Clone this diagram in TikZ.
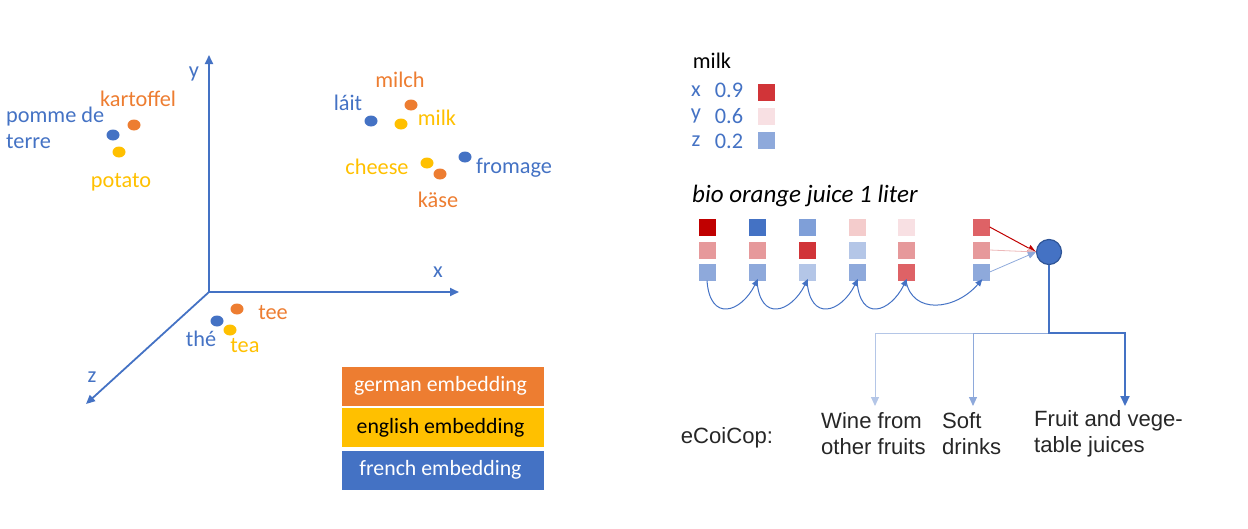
\documentclass[tikz,border=0pt]{standalone}
\usepackage{fontspec}
\setmainfont{Carlito}
\newfontfamily\arialf{Liberation Sans}
\usetikzlibrary{shapes.geometric,arrows.meta}
\definecolor{orng}{HTML}{ED7D31}
\definecolor{yel}{HTML}{FFC000}
\definecolor{blu}{HTML}{4472C4}
\definecolor{bluedark}{HTML}{2F5597}
\definecolor{darkred}{HTML}{C00000}
\definecolor{redA}{HTML}{D13438}
\definecolor{redB}{HTML}{DE6266}
\definecolor{redC}{HTML}{E6999B}
\definecolor{pinkA}{HTML}{F4CCCC}
\definecolor{pinkB}{HTML}{F8E0E3}
\definecolor{bluA}{HTML}{8EA9DB}
\definecolor{bluB}{HTML}{7F9FD8}
\definecolor{bluC}{HTML}{B4C6E7}
\definecolor{txtdark}{HTML}{262626}
\begin{document}
\begin{tikzpicture}[x=1pt,y=-1pt,
  dot/.style={ellipse,minimum width=13pt,minimum height=11pt,inner sep=0pt},
  lbl/.style={font=\fontsize{22.3}{26}\selectfont,inner sep=0pt},
  axisline/.style={draw=blu,line width=1.8pt,-{Triangle[length=9pt,width=8pt]}},
  legbox/.style={minimum width=202pt,minimum height=39pt,inner sep=0pt,font=\fontsize{21.8}{26}\selectfont},
  sq/.style={minimum size=17pt,inner sep=0pt},
  cat/.style={font=\arialf\fontsize{22.1}{26}\selectfont,text=txtdark,inner sep=0pt,align=left},
  hop/.style={draw=blu,line width=1pt,-{Triangle[length=7pt,width=6pt]},shorten >=-2pt}
]
\useasboundingbox (0,0) rectangle (1248,528);
% axes
\coordinate (O) at (209,292);
\coordinate (Y) at (209,55);
\coordinate (X) at (459,292);
\coordinate (Z) at (86,404);
\draw[axisline] (O) -- (Y);
\draw[axisline] (O) -- (X);
\draw[axisline] (O) -- (Z);
\node[lbl,text=blu] (ylbl) at (194,74) {y};
\node[lbl,text=blu] (xlbl) at (438,272) {x};
\node[lbl,text=blu] (zlbl) at (92,377) {z};
% potato cluster
\node[dot,fill=blu] (d1) at (113,135) {};
\node[dot,fill=orng] (d2) at (134,125) {};
\node[dot,fill=yel] (d3) at (119,152) {};
\node[lbl,text=blu,align=left,anchor=west] (l1) at (6,128) {pomme de\\terre};
\node[lbl,text=orng] (l2) at (138,99) {kartoffel};
\node[lbl,text=yel] (l3) at (121,182) {potato};
% milk cluster
\node[dot,fill=blu] (d4) at (371,121) {};
\node[dot,fill=orng] (d5) at (411,105) {};
\node[dot,fill=yel] (d6) at (401,124) {};
\node[lbl,text=blu] (l4) at (348,103) {láit};
\node[lbl,text=orng] (l5) at (400,80) {milch};
\node[lbl,text=yel] (l6) at (437,118) {milk};
% cheese cluster
\node[dot,fill=yel] (d7) at (427,163) {};
\node[dot,fill=orng] (d8) at (440,174) {};
\node[dot,fill=blu] (d9) at (465,157) {};
\node[lbl,text=yel] (l7) at (377,167) {cheese};
\node[lbl,text=orng] (l8) at (438,200) {käse};
\node[lbl,text=blu] (l9) at (514,168) {fromage};
% tea cluster
\node[dot,fill=blu] (d10) at (217,321) {};
\node[dot,fill=orng] (d11) at (237,309) {};
\node[dot,fill=yel] (d12) at (230,330) {};
\node[lbl,text=orng] (l10) at (273,313) {tee};
\node[lbl,text=blu] (l11) at (201,339) {thé};
\node[lbl,text=yel] (l12) at (245,346) {tea};
% legend
\node[legbox,fill=orng,text=white] (lg1) at (443,386) {german embedding\hspace*{5pt}};
\node[legbox,fill=yel,text=black] (lg2) at (443,427.5) {english embedding\hspace*{5pt}};
\node[legbox,fill=blu,text=white] (lg3) at (443,470) {french embedding\hspace*{5pt}};
% milk vector
\node[lbl,text=black] (milkt) at (712,61) {milk};
\node[lbl,text=blu] (mx) at (696,91) {x};
\node[lbl,text=blu] (my) at (696,116) {y};
\node[lbl,text=blu] (mz) at (696,141) {z};
\node[lbl,text=blu] (mxv) at (729,90) {0.9};
\node[lbl,text=blu] (myv) at (729,116) {0.6};
\node[lbl,text=blu] (mzv) at (729,141) {0.2};
\node[sq,fill=redA] (mxs) at (766,92) {};
\node[sq,fill=pinkB] (mys) at (766,116) {};
\node[sq,fill=bluA] (mzs) at (766,140) {};
% bio orange juice
\node[font=\itshape\fontsize{25}{28}\selectfont,anchor=west,inner sep=0pt] (title) at (692,196) {bio orange juice 1 liter};
\node[sq,fill=darkred] (s11) at (707,227) {};
\node[sq,fill=redC] (s12) at (707,250) {};
\node[sq,fill=bluA] (s13) at (707,272) {};
\node[sq,fill=blu] (s21) at (757,227) {};
\node[sq,fill=redC] (s22) at (757,250) {};
\node[sq,fill=bluA] (s23) at (757,272) {};
\node[sq,fill=bluB] (s31) at (807,227) {};
\node[sq,fill=redA] (s32) at (807,250) {};
\node[sq,fill=bluC] (s33) at (807,272) {};
\node[sq,fill=pinkA] (s41) at (857,227) {};
\node[sq,fill=bluC] (s42) at (857,250) {};
\node[sq,fill=bluA] (s43) at (857,272) {};
\node[sq,fill=pinkB] (s51) at (906,227) {};
\node[sq,fill=redC] (s52) at (906,250) {};
\node[sq,fill=redB] (s53) at (906,272) {};
\node[sq,fill=redB] (s61) at (981,227) {};
\node[sq,fill=redC] (s62) at (981,250) {};
\node[sq,fill=bluA] (s63) at (981,272) {};
% hops
\draw[hop] (s13.south) .. controls +(3,42) and +(-16,32) .. (s23.south);
\draw[hop] (s23.south) .. controls +(3,42) and +(-16,32) .. (s33.south);
\draw[hop] (s33.south) .. controls +(3,42) and +(-16,32) .. (s43.south);
\draw[hop] (s43.south) .. controls +(3,42) and +(-16,32) .. (s53.south);
\draw[hop] (s53.south) .. controls +(6,34) and +(-26,30) .. (s63.south);
% neuron
\node[circle,fill=blu,draw=bluedark,line width=1.2pt,minimum size=25pt,inner sep=0pt] (C) at (1049,252) {};
\draw[darkred,line width=1pt,-{Triangle[length=8pt,width=7pt]}] (s61.east) -- (C.west);
\draw[redC!70,line width=0.8pt,-{Triangle[length=8pt,width=7pt]}] (s62.east) -- (C.west);
\draw[bluA,line width=0.8pt,-{Triangle[length=8pt,width=7pt]}] (s63.east) -- (C.west);
% tree
\coordinate (J) at (1049,333);
\coordinate (wa) at (875,406);
\coordinate (sa) at (973,406);
\coordinate (fa) at (1125,406);
\draw[bluC,line width=1pt,-{Triangle[length=9pt,width=8pt]}] (J) -| (wa);
\draw[bluA,line width=1pt,-{Triangle[length=9pt,width=8pt]}] (J) -| (sa);
\draw[blu,line width=2pt,-{Triangle[length=10pt,width=9pt]}] (C.south) |- (J) -| (fa);
% categories
\node[cat] (ecoi) at (727,438) {eCoiCop:};
\node[cat,anchor=west] (wine) at (821,434) {Wine from\\other fruits};
\node[cat,anchor=west] (soft) at (942,434) {Soft\\drinks};
\node[cat,anchor=west] (fruit) at (1034,434) {Fruit and vege-\\table juices};
\end{tikzpicture}
\end{document}
